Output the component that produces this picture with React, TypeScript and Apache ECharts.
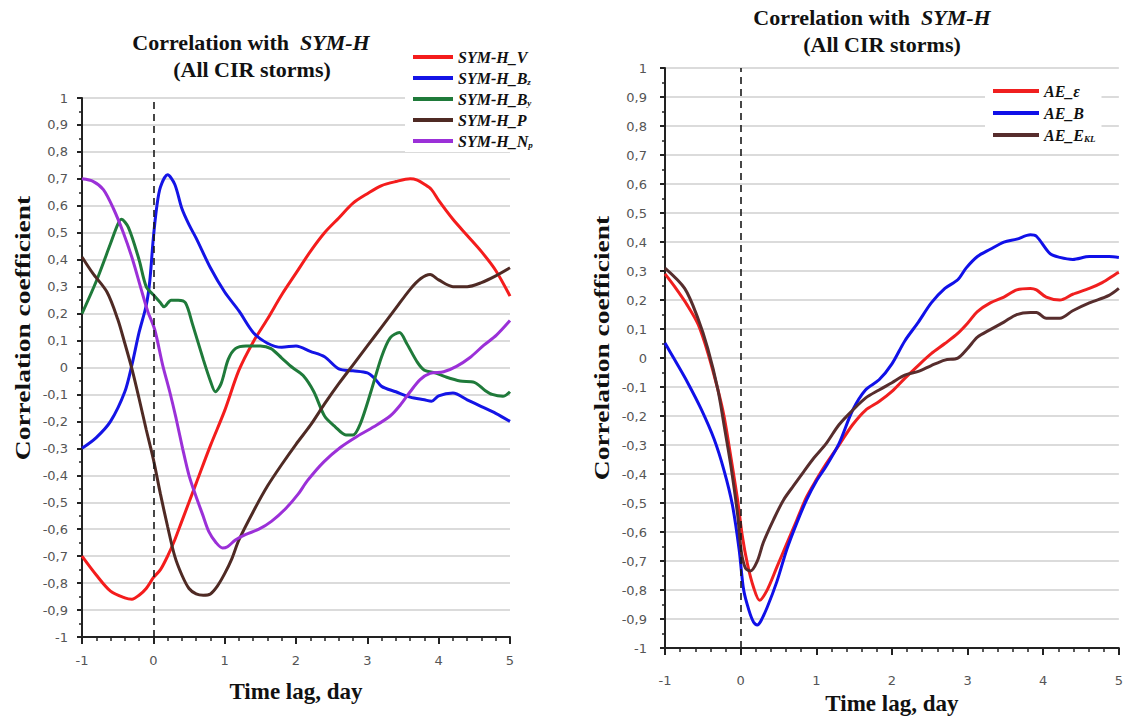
import React, { useEffect, useRef } from "react";
import * as echarts from "echarts";

// ---------- Left panel: correlation with SYM-H ----------
const symV_lag = [-1, -0.8, -0.6, -0.4, -0.3, -0.2, -0.1, 0, 0.1, 0.2, 0.3, 0.4, 0.6, 0.8, 1.0, 1.2, 1.4, 1.6, 1.8, 2.0, 2.2, 2.4, 2.6, 2.8, 3.0, 3.2, 3.4, 3.6, 3.7, 3.8, 3.9, 4.0, 4.2, 4.4, 4.6, 4.8, 5.0];
const symV_r = [-0.70, -0.77, -0.83, -0.855, -0.86, -0.845, -0.82, -0.78, -0.75, -0.70, -0.64, -0.57, -0.43, -0.29, -0.16, -0.01, 0.095, 0.18, 0.27, 0.35, 0.43, 0.50, 0.555, 0.61, 0.645, 0.675, 0.69, 0.70, 0.695, 0.68, 0.66, 0.62, 0.55, 0.49, 0.43, 0.36, 0.265];

const symBz_lag = [-1, -0.8, -0.6, -0.4, -0.3, -0.2, -0.1, -0.05, 0, 0.05, 0.1, 0.2, 0.3, 0.4, 0.5, 0.6, 0.8, 1.0, 1.2, 1.4, 1.6, 1.8, 2.0, 2.2, 2.4, 2.6, 2.8, 3.0, 3.1, 3.2, 3.4, 3.6, 3.8, 3.9, 4.0, 4.2, 4.4, 4.6, 4.8, 5.0];
const symBz_r = [-0.30, -0.26, -0.20, -0.09, 0.01, 0.13, 0.23, 0.32, 0.48, 0.60, 0.67, 0.715, 0.68, 0.59, 0.53, 0.48, 0.37, 0.28, 0.21, 0.13, 0.09, 0.075, 0.08, 0.06, 0.04, -0.005, -0.012, -0.02, -0.04, -0.07, -0.09, -0.11, -0.12, -0.125, -0.105, -0.095, -0.12, -0.145, -0.17, -0.20];

const symBy_lag = [-1, -0.8, -0.6, -0.5, -0.45, -0.35, -0.2, -0.1, 0, 0.1, 0.15, 0.25, 0.35, 0.45, 0.55, 0.7, 0.8, 0.87, 0.95, 1.05, 1.15, 1.3, 1.5, 1.65, 1.8, 1.95, 2.1, 2.25, 2.4, 2.55, 2.7, 2.8, 2.9, 3.05, 3.2, 3.32, 3.45, 3.55, 3.7, 3.8, 3.95, 4.1, 4.3, 4.5, 4.65, 4.75, 4.9, 5.0];
const symBy_r = [0.20, 0.32, 0.46, 0.53, 0.55, 0.52, 0.40, 0.30, 0.27, 0.24, 0.225, 0.25, 0.25, 0.24, 0.16, 0.03, -0.05, -0.09, -0.06, 0.03, 0.07, 0.08, 0.08, 0.07, 0.035, 0.0, -0.03, -0.09, -0.18, -0.22, -0.25, -0.25, -0.21, -0.09, 0.04, 0.11, 0.13, 0.09, 0.02, -0.01, -0.02, -0.035, -0.05, -0.055, -0.085, -0.10, -0.107, -0.09];

const symP_lag = [-1, -0.85, -0.65, -0.5, -0.4, -0.3, -0.2, -0.1, 0, 0.1, 0.2, 0.3, 0.4, 0.5, 0.6, 0.7, 0.8, 0.9, 1.0, 1.1, 1.2, 1.4, 1.6, 1.8, 2.0, 2.2, 2.4, 2.6, 2.8, 3.0, 3.2, 3.4, 3.6, 3.75, 3.88, 4.0, 4.2, 4.4, 4.6, 4.8, 5.0];
const symP_r = [0.41, 0.35, 0.28, 0.18, 0.09, -0.005, -0.115, -0.23, -0.34, -0.47, -0.59, -0.70, -0.77, -0.82, -0.84, -0.845, -0.84, -0.81, -0.765, -0.71, -0.64, -0.535, -0.44, -0.36, -0.285, -0.215, -0.135, -0.06, 0.01, 0.08, 0.15, 0.22, 0.29, 0.33, 0.345, 0.325, 0.30, 0.30, 0.315, 0.34, 0.37];

const symNp_lag = [-1, -0.84, -0.7, -0.56, -0.42, -0.29, -0.17, -0.08, 0.02, 0.13, 0.23, 0.32, 0.41, 0.5, 0.6, 0.69, 0.78, 0.88, 0.97, 1.04, 1.15, 1.29, 1.48, 1.66, 1.85, 2.03, 2.16, 2.39, 2.63, 2.86, 3.09, 3.32, 3.46, 3.6, 3.74, 3.88, 4.07, 4.25, 4.44, 4.63, 4.81, 5.0];
const symNp_r = [0.70, 0.69, 0.66, 0.59, 0.50, 0.40, 0.29, 0.21, 0.14, 0.01, -0.09, -0.19, -0.30, -0.40, -0.48, -0.545, -0.61, -0.65, -0.67, -0.665, -0.64, -0.62, -0.60, -0.57, -0.525, -0.47, -0.42, -0.35, -0.295, -0.255, -0.22, -0.18, -0.14, -0.09, -0.045, -0.022, -0.016, 0.004, 0.037, 0.082, 0.12, 0.174];

// ---------- Right panel: AE correlations ----------
const aeEps_lag = [-1, -0.87, -0.7, -0.56, -0.43, -0.3, -0.22, -0.13, -0.04, 0.02, 0.09, 0.17, 0.25, 0.35, 0.48, 0.61, 0.74, 0.87, 1.0, 1.13, 1.3, 1.48, 1.65, 1.83, 2.0, 2.17, 2.35, 2.52, 2.7, 2.87, 3.0, 3.13, 3.3, 3.48, 3.65, 3.83, 3.91, 4.04, 4.22, 4.39, 4.61, 4.78, 4.96, 5.0];
const aeEps_r = [0.29, 0.245, 0.18, 0.115, 0.015, -0.11, -0.20, -0.34, -0.49, -0.61, -0.71, -0.79, -0.835, -0.80, -0.72, -0.64, -0.56, -0.48, -0.42, -0.365, -0.30, -0.23, -0.18, -0.15, -0.115, -0.07, -0.025, 0.015, 0.05, 0.085, 0.12, 0.16, 0.19, 0.21, 0.235, 0.24, 0.235, 0.21, 0.20, 0.22, 0.24, 0.26, 0.29, 0.295];

const aeB_lag = [-1, -0.87, -0.7, -0.52, -0.35, -0.22, -0.11, -0.02, 0.04, 0.11, 0.17, 0.22, 0.26, 0.35, 0.48, 0.61, 0.74, 0.87, 1.0, 1.13, 1.3, 1.48, 1.65, 1.83, 2.0, 2.17, 2.35, 2.52, 2.7, 2.87, 2.98, 3.13, 3.3, 3.48, 3.65, 3.83, 3.91, 4.09, 4.22, 4.39, 4.61, 4.87, 5.0];
const aeB_r = [0.052, -0.007, -0.085, -0.177, -0.28, -0.387, -0.505, -0.66, -0.80, -0.87, -0.91, -0.92, -0.91, -0.86, -0.77, -0.66, -0.57, -0.49, -0.425, -0.373, -0.295, -0.18, -0.11, -0.075, -0.02, 0.059, 0.124, 0.19, 0.24, 0.27, 0.31, 0.35, 0.375, 0.40, 0.41, 0.425, 0.42, 0.36, 0.347, 0.34, 0.35, 0.35, 0.347];

const aeEkl_lag = [-1, -0.74, -0.565, -0.435, -0.3, -0.22, -0.13, -0.04, 0.01, 0.065, 0.13, 0.22, 0.3, 0.435, 0.565, 0.7, 0.83, 0.96, 1.13, 1.3, 1.48, 1.65, 1.83, 2.0, 2.17, 2.35, 2.52, 2.7, 2.87, 3.0, 3.13, 3.3, 3.48, 3.65, 3.83, 3.91, 4.04, 4.22, 4.39, 4.61, 4.87, 5.0];
const aeEkl_r = [0.31, 0.24, 0.137, 0.033, -0.11, -0.23, -0.37, -0.54, -0.67, -0.725, -0.734, -0.70, -0.636, -0.557, -0.49, -0.44, -0.393, -0.347, -0.295, -0.23, -0.18, -0.138, -0.11, -0.085, -0.059, -0.046, -0.026, -0.007, 0.0, 0.033, 0.072, 0.098, 0.124, 0.15, 0.157, 0.157, 0.137, 0.137, 0.163, 0.19, 0.216, 0.24];

const leftNames = ["SYM-H_V", "SYM-H_Bz", "SYM-H_By", "SYM-H_P", "SYM-H_Np"];
const rightNames = ["AE_ε", "AE_B", "AE_EKL"];
const legendLabels: Record<string, string> = {
  "SYM-H_V": "{n|SYM-H_V}",
  "SYM-H_Bz": "{n|SYM-H_B}{s|z}",
  "SYM-H_By": "{n|SYM-H_B}{s|y}",
  "SYM-H_P": "{n|SYM-H_P}",
  "SYM-H_Np": "{n|SYM-H_N}{s|p}",
  "AE_ε": "{n|AE_ε}",
  "AE_B": "{n|AE_B}",
  "AE_EKL": "{n|AE_E}{s|KL}",
};

const pairs = (l: number[], r: number[]) => l.map((x, i) => [x, r[i]]);

const SERIF = "'Liberation Serif', 'Times New Roman', serif";
const SANS = "'DejaVu Sans', Verdana, sans-serif";

function fmt(v: number) {
  const n = Math.round(v * 10) / 10;
  if (Math.abs(n) < 1e-9) return "0";
  return String(n).replace(".", ",");
}

function xAxisCfg(gridIndex: number, labelMargin: number, nameGap: number) {
  return {
    type: "value",
    gridIndex,
    min: -1,
    max: 5,
    interval: 1,
    name: "Time lag, day",
    nameLocation: "middle",
    nameGap,
    nameTextStyle: { fontFamily: SERIF, fontWeight: "bold", fontSize: 23, color: "#111" },
    axisLine: { show: true, onZero: false, lineStyle: { color: "#222", width: 2 } },
    axisTick: { show: true, length: 7, lineStyle: { color: "#222", width: 2 } },
    minorTick: { show: true, splitNumber: 5, length: 4, lineStyle: { color: "#222", width: 1.5 } },
    axisLabel: { margin: labelMargin, fontFamily: SANS, fontSize: 13, color: "#555", formatter: (v: number) => fmt(v) },
    splitLine: { show: false },
  };
}

function yAxisCfg(gridIndex: number, labelMargin: number) {
  return {
    type: "value",
    gridIndex,
    min: -1,
    max: 1,
    interval: 0.1,
    axisLine: { show: true, onZero: false, lineStyle: { color: "#222", width: 2 } },
    axisTick: { show: true, length: 5, lineStyle: { color: "#222", width: 2 } },
    minorTick: { show: true, splitNumber: 2, length: 3, lineStyle: { color: "#222", width: 1.5 } },
    axisLabel: { margin: labelMargin, fontFamily: SANS, fontSize: 13, color: "#555", formatter: (v: number) => fmt(v) },
    splitLine: { show: true, lineStyle: { color: "#cfcfcf", width: 1.6 } },
  };
}

const dashedZero = {
  silent: true,
  symbol: ["none", "none"],
  label: { show: false },
  lineStyle: { type: [7, 5], color: "#1a1a1a", width: 1.6 },
  data: [{ xAxis: 0 }],
};

function line(name: string, data: number[][], color: string, gi: number, extra: any = {}) {
  return {
    type: "line",
    name,
    xAxisIndex: gi,
    yAxisIndex: gi,
    data,
    symbol: "none",
    showSymbol: false,
    smooth: 0.3,
    lineStyle: { color, width: 3 },
    itemStyle: { color },
    ...extra,
  };
}

const legendText = (fontSize: number) => ({
  fontFamily: SERIF,
  fontWeight: "bold",
  fontStyle: "italic",
  fontSize,
  color: "#111",
  rich: {
    n: { fontFamily: SERIF, fontWeight: "bold", fontStyle: "italic", fontSize, color: "#111", lineHeight: 18 },
    s: { fontFamily: SERIF, fontWeight: "bold", fontStyle: "italic", fontSize: 9, color: "#111", lineHeight: 18, padding: [7, 0, 0, 0] },
  },
});

function titleTexts(cx1: number, cx2: number, y1: number, y2: number) {
  const rich = {
    b: { fontFamily: SERIF, fontWeight: "bold", fontSize: 22, fill: "#111" },
    i: { fontFamily: SERIF, fontWeight: "bold", fontStyle: "italic", fontSize: 22, fill: "#111" },
  };
  return [
    {
      type: "text",
      x: cx1,
      y: y1,
      style: { text: "{b|Correlation with  }{i|SYM-H}", rich, align: "center", verticalAlign: "middle" },
    },
    {
      type: "text",
      x: cx2,
      y: y2,
      style: { text: "{b|(All CIR storms)}", rich, align: "center", verticalAlign: "middle" },
    },
  ];
}

function yName(x: number, y: number) {
  return {
    type: "text",
    x,
    y,
    rotation: Math.PI / 2,
    scaleX: 1.25,
    style: {
      text: "Correlation coefficient",
      fontFamily: SERIF,
      fontWeight: "bold",
      fontSize: 22,
      fill: "#111",
      align: "center",
      verticalAlign: "middle",
    },
  };
}

export default function App() {
  const ref = useRef<HTMLDivElement>(null);
  useEffect(() => {
    if (!ref.current) return;
    const chart = echarts.init(ref.current, null, { renderer: "svg" });
    const option: any = {
      animation: false,
      backgroundColor: "#fff",
      grid: [
        { left: 82, top: 98, width: 428, height: 539, containLabel: false },
        { left: 665, top: 68, width: 459, height: 584, containLabel: false },
      ],
      xAxis: [xAxisCfg(0, 17, 43), xAxisCfg(1, 26, 43)],
      yAxis: [yAxisCfg(0, 14), yAxisCfg(1, 18)],
      legend: [
        {
          data: leftNames,
          orient: "vertical",
          left: 405,
          top: 46,
          itemWidth: 40,
          itemHeight: 4,
          itemGap: 5,
          icon: "rect",
          backgroundColor: "#fff",
          padding: [3, 6, 3, 8],
          textStyle: legendText(16),
          formatter: (n: string) => legendLabels[n] || n,
        },
        {
          data: rightNames,
          orient: "vertical",
          left: 985,
          top: 80,
          itemWidth: 46,
          itemHeight: 4,
          itemGap: 6,
          icon: "rect",
          backgroundColor: "#fff",
          padding: [3, 6, 3, 8],
          textStyle: legendText(16),
          formatter: (n: string) => legendLabels[n] || n,
        },
      ],
      graphic: [
        ...titleTexts(251, 252, 42, 69),
        ...titleTexts(872, 882, 17, 44),
        yName(22, 328),
        yName(601, 348),
      ],
      series: [
        line("SYM-H_V", pairs(symV_lag, symV_r), "#f41c1c", 0, { markLine: dashedZero }),
        line("SYM-H_Bz", pairs(symBz_lag, symBz_r), "#1414e6", 0),
        line("SYM-H_By", pairs(symBy_lag, symBy_r), "#1f7a3a", 0),
        line("SYM-H_P", pairs(symP_lag, symP_r), "#4f2a24", 0),
        line("SYM-H_Np", pairs(symNp_lag, symNp_r), "#9b30d8", 0),
        line("AE_ε", pairs(aeEps_lag, aeEps_r), "#f01f1f", 1, { markLine: dashedZero }),
        line("AE_B", pairs(aeB_lag, aeB_r), "#1010e8", 1),
        line("AE_EKL", pairs(aeEkl_lag, aeEkl_r), "#572d2d", 1),
      ],
    };
    chart.setOption(option);
    return () => chart.dispose();
  }, []);
  return (
    <div
      ref={ref}
      style={{ position: "absolute", left: 0, top: 0, width: 1126, height: 720, background: "#fff" }}
    />
  );
}
